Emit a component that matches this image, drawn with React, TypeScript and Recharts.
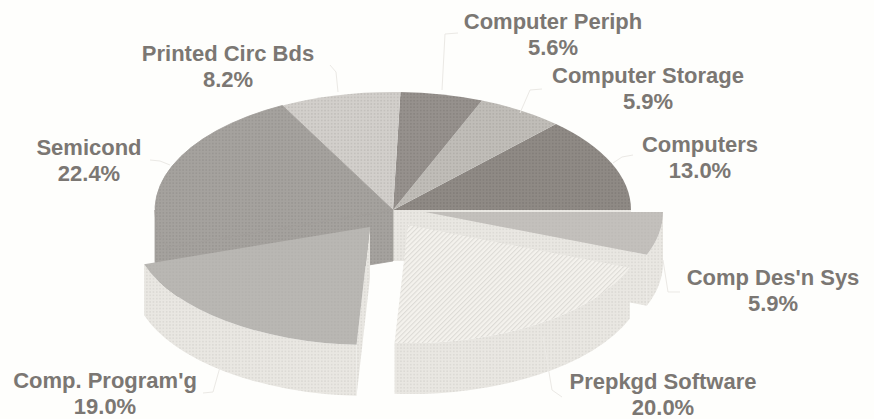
import { PieChart, Pie } from "recharts";

const categories = [
  "Computers",
  "Computer Storage",
  "Computer Periph",
  "Printed Circ Bds",
  "Semicond",
  "Comp. Program'g",
  "Prepkgd Software",
  "Comp Des'n Sys",
];
const shares = [13.0, 5.9, 5.6, 8.2, 22.4, 19.0, 20.0, 5.9];

const tableData = categories.map((name, i) => ({ name, value: shares[i] }));

// Pie geometry: a circular pie flattened on screen and given a thick side wall
const CX = 393;
const CY = 210;
const RADIUS = 238;
const SQUASH = 0.496;
const DEPTH = 51;

const INK = "#7b7773";
const LEADER = "#ebe9e5";
const PAPER = "#fefefc";

// Slices that sit away from the body of the pie, in screen pixels
const explode: Record<string, [number, number]> = {
  "Comp. Program'g": [-23, 17],
  "Prepkgd Software": [15, 15],
  "Comp Des'n Sys": [32, 2],
};

const topFills: Record<string, string> = {
  Computers: "url(#dotDark)",
  "Computer Storage": "url(#dotPale)",
  "Computer Periph": "url(#dotDark2)",
  "Printed Circ Bds": "url(#dotLight)",
  Semicond: "url(#dotMid)",
  "Comp. Program'g": "url(#dotSoft)",
  "Prepkgd Software": "url(#hatch)",
  "Comp Des'n Sys": "url(#dotSoft2)",
};

// Back slices have no visible wall, so they are left out here
const wallFills: Record<string, string> = {
  Computers: "url(#dotWall)",
  Semicond: "url(#dotMid)",
  "Comp. Program'g": "url(#dotWall)",
  "Prepkgd Software": "url(#dotWall)",
  "Comp Des'n Sys": "url(#dotWall)",
};

// Semicond's wall runs straight on from its top face, so the seam gets covered
const seamColors: Record<string, string> = {
  Semicond: "#9f9c98",
};

// Paint order, back to front
const layers = [
  ["Computers", "Computer Storage", "Computer Periph", "Printed Circ Bds", "Semicond"],
  ["Comp Des'n Sys"],
  ["Prepkgd Software"],
  ["Comp. Program'g"],
];

// Text centre, baselines and leader polyline for each label
const labelLayout: Record<string, { x: number; y: number; leader: string }> = {
  Computers: { x: 700, y: 152, leader: "633,155 622,157 613,163" },
  "Computer Storage": { x: 648, y: 83, leader: "542,89 530,90 520,113" },
  "Computer Periph": { x: 553, y: 29, leader: "458,33 445,34 442,90" },
  "Printed Circ Bds": { x: 228, y: 61, leader: "330,65 336,72 338,92" },
  Semicond: { x: 89, y: 155, leader: "150,160 160,161 170,165" },
  "Comp. Program'g": { x: 105, y: 388, leader: "220,367 213,392 203,393" },
  "Prepkgd Software": { x: 663, y: 389, leader: "543,337 552,390 562,397" },
  "Comp Des'n Sys": { x: 773, y: 285, leader: "663,260 668,292 680,292" },
};

const toRad = (deg: number) => (deg * Math.PI) / 180;

function SliceShape(props: any, layer: string[]) {
  const { cx, cy, outerRadius, startAngle, endAngle, payload } = props;
  const name: string = payload?.name ?? props.name;
  if (!layer.includes(name)) return <g />;

  const [ox, oy] = explode[name] ?? [0, 0];
  const rx = outerRadius;
  const ry = outerRadius * SQUASH;
  const ax = cx + ox;
  const ay = cy + oy;
  const px = (deg: number) => ax + rx * Math.cos(toRad(deg));
  const py = (deg: number) => ay - ry * Math.sin(toRad(deg));
  const arc = (from: number, to: number, dy = 0, sweep = 0) => {
    const large = Math.abs(to - from) > 180 ? 1 : 0;
    return `A ${rx} ${ry} 0 ${large} ${sweep} ${px(to)} ${py(to) + dy}`;
  };

  const wall = wallFills[name];
  const walls: string[] = [];
  if (wall) {
    // radial cut faces that turn toward the viewer
    [startAngle, endAngle].forEach((a: number, i: number) => {
      const facing = i === 0 ? Math.cos(toRad(a)) > 0 : Math.cos(toRad(a)) < 0;
      if (!facing) return;
      walls.push(
        `M ${ax} ${ay} L ${px(a)} ${py(a)} L ${px(a)} ${py(a) + DEPTH} L ${ax} ${ay + DEPTH} Z`,
      );
    });
    // outer rim, front half only
    const from = Math.max(startAngle, 180);
    const to = Math.min(endAngle, 360);
    if (to > from) {
      walls.push(
        `M ${px(from)} ${py(from)} ${arc(from, to)} L ${px(to)} ${py(to) + DEPTH} ${arc(to, from, DEPTH, 1)} Z`,
      );
    }
  }

  const top = `M ${ax} ${ay} L ${px(startAngle)} ${py(startAngle)} ${arc(startAngle, endAngle)} Z`;
  const seam = seamColors[name];

  return (
    <g>
      {walls.map((d, i) => (
        <path key={i} d={d} fill={wall} stroke={seam ?? "none"} strokeWidth={seam ? 0.8 : 0} />
      ))}
      <path d={top} fill={topFills[name]} stroke={seam ?? "none"} strokeWidth={seam ? 0.8 : 0} />
    </g>
  );
}

function SliceLabel(props: any) {
  const name: string = props.name ?? props.payload?.name;
  const spot = labelLayout[name];
  if (!spot) return null;
  return (
    <g>
      <polyline points={spot.leader} fill="none" stroke={LEADER} strokeWidth={1} />
      <text
        x={spot.x}
        y={spot.y}
        textAnchor="middle"
        fill={INK}
        fontFamily="'Liberation Sans', Arial, sans-serif"
        fontWeight={700}
        fontSize={22}
      >
        {name}
      </text>
      <text
        x={spot.x}
        y={spot.y + 26}
        textAnchor="middle"
        fill={INK}
        fontFamily="'Liberation Sans', Arial, sans-serif"
        fontWeight={700}
        fontSize={22}
      >
        {`${props.value.toFixed(1)}%`}
      </text>
    </g>
  );
}

function Dots({ id, base, dot, r = 0.85 }: { id: string; base: string; dot: string; r?: number }) {
  return (
    <pattern id={id} width={3.3} height={3.3} patternUnits="userSpaceOnUse">
      <rect width={3.3} height={3.3} fill={base} />
      <circle cx={1.65} cy={1.65} r={r} fill={dot} />
    </pattern>
  );
}

export default function App() {
  return (
    <div style={{ position: "absolute", left: 0, top: 0, width: 874, height: 419, background: PAPER, overflow: "hidden" }}>
      <PieChart width={874} height={419} margin={{ top: 0, right: 0, bottom: 0, left: 0 }}>
        <defs>
          <Dots id="dotDark" base="#8f8a85" dot="#7f7a76" />
          <Dots id="dotDark2" base="#96918d" dot="#86817d" />
          <Dots id="dotPale" base="#c0bdb8" dot="#aeaba6" />
          <Dots id="dotLight" base="#d2cfcb" dot="#bebbb7" />
          <Dots id="dotMid" base="#a5a29e" dot="#969390" />
          <Dots id="dotSoft" base="#b9b7b3" dot="#b3b1ad" />
          <Dots id="dotSoft2" base="#c3c0bc" dot="#bdbab6" />
          <Dots id="dotWall" base="#e9e7e2" dot="#d8d6d1" />
          <pattern id="hatch" width={3.4} height={3.4} patternUnits="userSpaceOnUse" patternTransform="rotate(45)">
            <rect width={3.4} height={3.4} fill="#f4f2ed" />
            <rect width={1.1} height={3.4} fill="#dddbd6" />
          </pattern>
        </defs>
        {layers.map((layer, i) => (
          <Pie
            key={i}
            data={tableData}
            dataKey="value"
            nameKey="name"
            cx={CX}
            cy={CY}
            innerRadius={0}
            outerRadius={RADIUS}
            startAngle={0}
            endAngle={360}
            stroke="none"
            isAnimationActive={false}
            shape={(p: any) => SliceShape(p, layer)}
            label={i === layers.length - 1 ? SliceLabel : false}
            labelLine={false}
          />
        ))}
      </PieChart>
    </div>
  );
}
